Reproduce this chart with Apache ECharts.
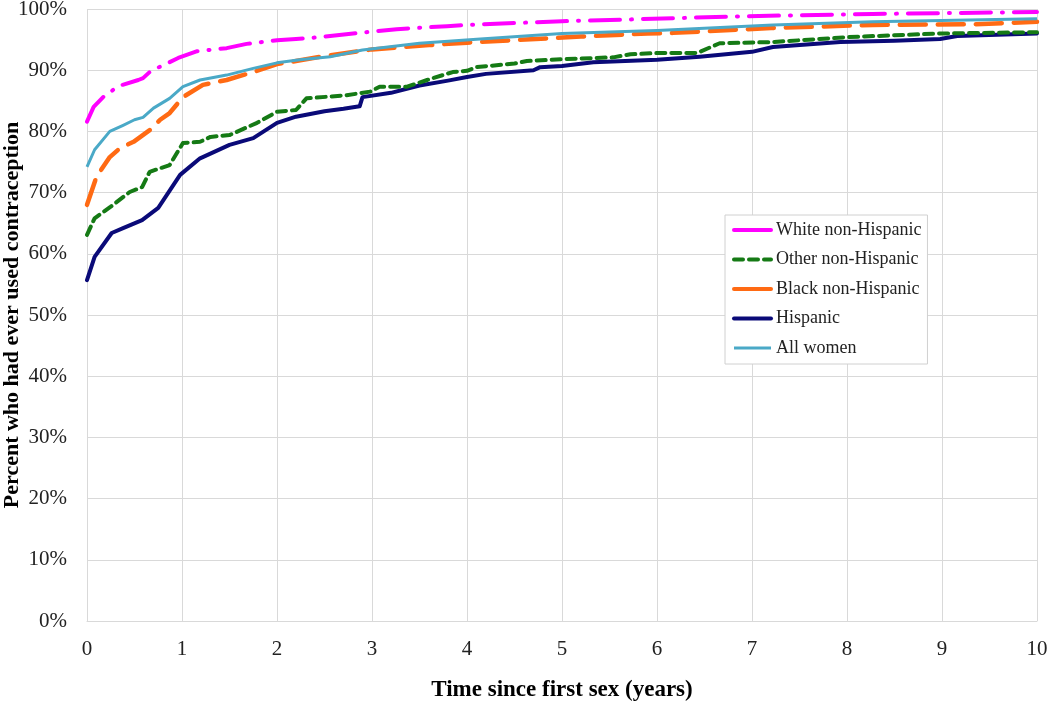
<!DOCTYPE html>
<html>
<head>
<meta charset="utf-8">
<script src="https://cdn.jsdelivr.net/npm/echarts@6/dist/echarts.min.js"></script>
<style>
html,body{margin:0;padding:0;background:#fff;}
#chart{width:1050px;height:704px;}
</style>
</head>
<body>
<div id="chart"></div>
<script>
// ---- data (years since first sex, percent ever used contraception) ----
var seriesNames = ['White non-Hispanic', 'Other non-Hispanic', 'Black non-Hispanic', 'Hispanic', 'All women'];
var xTicks = [0,1,2,3,4,5,6,7,8,9,10];
var yTicks = [0,10,20,30,40,50,60,70,80,90,100];

var whiteT = [0,0.07,0.17,0.33,0.54,0.59,0.68,0.79,0.96,1.16,1.47,1.68,2.0,2.2,2.38,2.87,3.26,3.79,4.14,5.0,5.72,6.87,8.27,10];
var whiteV = [81.6,84.0,85.6,87.4,88.4,88.7,90.0,90.7,92.0,93.1,93.6,94.3,94.9,95.1,95.3,96.1,96.7,97.2,97.5,98.0,98.3,98.8,99.2,99.5];

var otherT = [0,0.08,0.25,0.45,0.58,0.66,0.87,1.01,1.19,1.3,1.5,1.79,2.0,2.2,2.31,2.73,2.98,3.08,3.37,3.58,3.85,4.0,4.1,4.5,4.63,5.0,5.54,5.72,6.0,6.42,6.66,7.22,8.0,8.98,10];
var otherV = [63.1,65.8,67.7,70.1,70.9,73.4,74.5,78.1,78.3,79.1,79.4,81.4,83.2,83.5,85.4,85.9,86.5,87.3,87.3,88.4,89.7,89.9,90.5,91.1,91.5,91.8,92.1,92.6,92.8,92.8,94.4,94.6,95.4,96.0,96.2];

var blackT = [0,0.1,0.24,0.35,0.49,0.66,0.77,0.87,1.01,1.22,1.47,1.75,2.0,2.2,2.5,3.0,3.6,4.0,4.84,5.2,5.9,6.17,7.2,8.27,9.33,10];
var blackV = [68.0,72.6,75.8,77.3,78.3,80.2,81.9,83.0,85.6,87.6,88.4,89.7,91.0,91.5,92.3,93.4,94.1,94.5,95.2,95.5,96.0,96.1,96.9,97.4,97.5,97.9];

var hispT = [0,0.08,0.26,0.38,0.58,0.75,0.98,1.19,1.5,1.75,2.0,2.2,2.5,2.7,2.87,2.9,3.2,3.5,3.8,4.0,4.2,4.7,4.77,5.0,5.33,6.0,6.45,7.0,7.22,7.93,8.5,8.98,9.16,10];
var hispV = [55.7,59.5,63.4,64.2,65.5,67.5,72.9,75.6,77.8,78.9,81.4,82.4,83.3,83.7,84.1,85.6,86.3,87.5,88.3,88.9,89.4,90.0,90.5,90.7,91.3,91.7,92.2,93.0,93.8,94.6,94.8,95.1,95.6,96.0];

var allT = [0,0.08,0.24,0.38,0.5,0.59,0.7,0.87,1.01,1.19,1.47,1.75,2.0,2.24,2.56,2.9,3.5,4.14,5.0,6.0,7.22,8.27,10];
var allV = [74.2,77.0,80.0,81.0,81.9,82.3,83.8,85.4,87.3,88.4,89.2,90.3,91.2,91.7,92.2,93.3,94.4,95.1,96.0,96.5,97.4,97.9,98.4];

function pairs(t, v){ return t.map(function(x,i){ return [x, v[i]]; }); }

var FONT = "'Liberation Serif', 'DejaVu Serif', serif";
var chart = echarts.init(document.getElementById('chart'), null, {renderer:'canvas'});

var option = {
  animation: false,
  backgroundColor: '#fff',
  grid: {left: 87, right: 13, top: 9, bottom: 83, containLabel: false, outerBoundsMode: 'none'},
  xAxis: {
    type: 'value', min: 0, max: 10, interval: 1,
    name: 'Time since first sex (years)', nameLocation: 'middle', nameGap: 58,
    nameMoveOverlap: false,
    nameTextStyle: {fontFamily: FONT, fontSize: 23, fontWeight: 'bold', color: '#000'},
    axisLine: {show: true, lineStyle: {color: '#d9d9d9'}},
    axisTick: {show: false},
    axisLabel: {fontFamily: FONT, fontSize: 21, color: '#222', margin: 18,
      formatter: function(v){ return xTicks.indexOf(v) >= 0 ? String(v) : ''; }},
    splitLine: {show: true, lineStyle: {color: '#d9d9d9', width: 1}}
  },
  yAxis: {
    type: 'value', min: 0, max: 100, interval: 10,
    name: 'Percent who had ever used contraception', nameLocation: 'middle', nameGap: 64,
    nameMoveOverlap: false,
    nameTextStyle: {fontFamily: FONT, fontSize: 22, fontWeight: 'bold', color: '#000'},
    axisLine: {show: false},
    axisTick: {show: false},
    axisLabel: {fontFamily: FONT, fontSize: 21, color: '#222', margin: 20,
      formatter: function(v){ return yTicks.indexOf(v) >= 0 ? v + '%' : ''; }},
    splitLine: {show: true, lineStyle: {color: '#d9d9d9', width: 1}}
  },
  legend: {
    orient: 'vertical', left: 725, top: 215,
    padding: [6, 6, 7, 7],
    itemGap: 11.5,
    itemWidth: 37, itemHeight: 18,
    backgroundColor: '#fff',
    borderColor: '#d0d0d0', borderWidth: 1,
    itemStyle: {opacity: 0},
    textStyle: {fontFamily: FONT, fontSize: 18, color: '#222'},
    data: [
      {name: seriesNames[0], lineStyle: {type: 'solid', width: 4}},
      {name: seriesNames[1], lineStyle: {type: [9,6], width: 4}},
      {name: seriesNames[2], lineStyle: {type: 'solid', width: 4}},
      {name: seriesNames[3], lineStyle: {type: 'solid', width: 4}},
      {name: seriesNames[4], lineStyle: {type: 'solid', width: 3}}
    ]
  },
  series: [
    {name: seriesNames[3], type: 'line', data: pairs(hispT, hispV), showSymbol: false, symbol: 'none',
      lineStyle: {color: '#0a0a78', width: 4, cap: 'round', join: 'round'}, itemStyle: {color: '#0a0a78'}, z: 2},
    {name: seriesNames[1], type: 'line', data: pairs(otherT, otherV), showSymbol: false, symbol: 'none',
      lineStyle: {color: '#157a15', width: 4, type: [9,6], cap: 'round', join: 'round'}, itemStyle: {color: '#157a15'}, z: 3},
    {name: seriesNames[2], type: 'line', data: pairs(blackT, blackV), showSymbol: false, symbol: 'none',
      lineStyle: {color: '#ff6a13', width: 4.5, type: [26,12], cap: 'round', join: 'round'}, itemStyle: {color: '#ff6a13'}, z: 4},
    {name: seriesNames[4], type: 'line', data: pairs(allT, allV), showSymbol: false, symbol: 'none',
      lineStyle: {color: '#4aa9c7', width: 3, join: 'round'}, itemStyle: {color: '#4aa9c7'}, z: 5},
    {name: seriesNames[0], type: 'line', data: pairs(whiteT, whiteV), showSymbol: false, symbol: 'none',
      lineStyle: {color: '#ff00ff', width: 4, type: [30,11,1,11], cap: 'round', join: 'round'}, itemStyle: {color: '#ff00ff'}, z: 6}
  ]
};
chart.setOption(option);
</script>
</body>
</html>
